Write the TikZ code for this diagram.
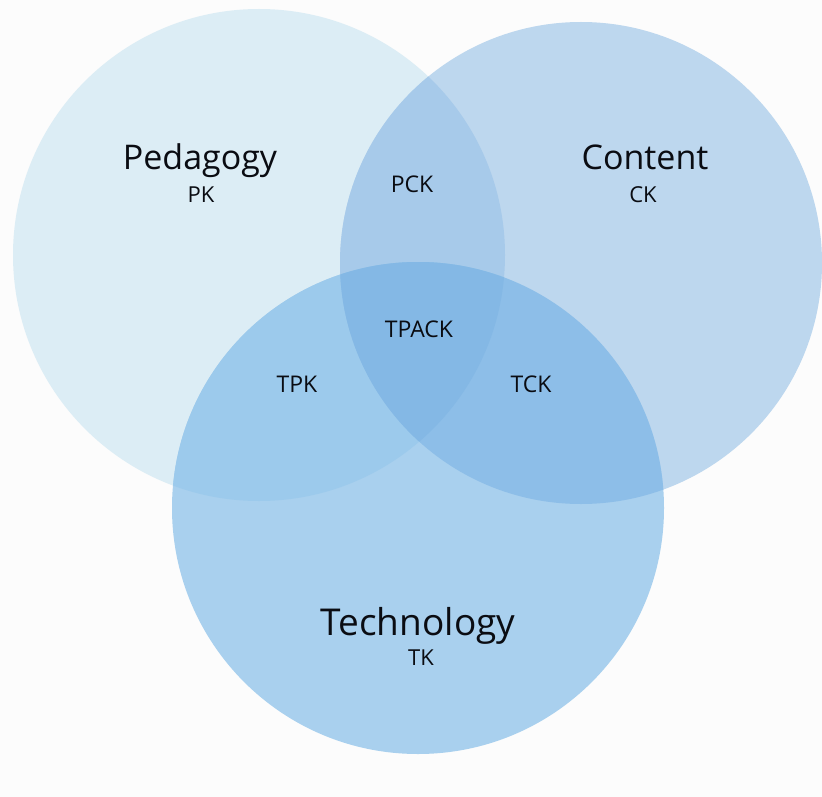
\documentclass[tikz,border=0pt]{standalone}
\usepackage{fontspec}
\setmainfont{Open Sans}
\usepackage{tikz}
\definecolor{ColBack}{RGB}{252,252,252}
\definecolor{ColPed}{RGB}{220,237,245}
\definecolor{ColCon}{RGB}{189,215,238}
\definecolor{ColTec}{RGB}{169,208,238}
\definecolor{ColPC}{RGB}{167,202,234}
\definecolor{ColPT}{RGB}{156,202,236}
\definecolor{ColCT}{RGB}{141,190,232}
\definecolor{ColAll}{RGB}{132,184,229}
\definecolor{ColText}{RGB}{10,12,18}
\tikzstyle{LabelBig}=[text=ColText,inner sep=0pt,anchor=base,
font=\fontsize{34}{38}\selectfont]
\tikzstyle{LabelTech}=[LabelBig,font=\fontsize{37}{42}\selectfont]
\tikzstyle{LabelMid}=[text=ColText,inner sep=0pt,anchor=base,
font=\fontsize{23}{27}\selectfont]
\tikzstyle{LabelSmall}=[text=ColText,inner sep=0pt,anchor=base,
font=\fontsize{22}{26}\selectfont]

\begin{document}
\begin{tikzpicture}[x=1pt,y=-1pt]
        \fill[ColBack](0,0)rectangle(822,797);
        \useasboundingbox(0,0)rectangle(822,797);
        \coordinate(ped)at(259,255);
        \coordinate(con)at(581,263);
        \coordinate(tec)at(418,508);
        % the three circles
        \fill[ColPed](ped)circle[radius=246pt];
        \fill[ColCon](con)circle[radius=241pt];
        \fill[ColTec](tec)circle[radius=246pt];
        % overlaps
        \begin{scope}
            \clip(ped)circle[radius=246pt];
            \fill[ColPC](con)circle[radius=241pt];
            \fill[ColPT](tec)circle[radius=246pt];
        \end{scope}
        \begin{scope}
            \clip(con)circle[radius=241pt];
            \fill[ColCT](tec)circle[radius=246pt];
        \end{scope}
        \begin{scope}
            \clip(ped)circle[radius=246pt];
            \clip(con)circle[radius=241pt];
            \fill[ColAll](tec)circle[radius=246pt];
        \end{scope}
        % labels
        \node[LabelBig](pedname)at(200,169){Pedagogy};
        \node[LabelSmall](pk)at(201,202){PK};
        \node[LabelBig](conname)at(645,169){Content};
        \node[LabelSmall](ck)at(643,202){CK};
        \node[LabelTech](tecname)at(418,635){Technology};
        \node[LabelSmall](tk)at(421,665){TK};
        \node[LabelMid](pck)at(412,192){PCK};
        \node[LabelMid](tpack)at(419,337){TPACK};
        \node[LabelMid](tpk)at(297,392){TPK};
        \node[LabelMid](tck)at(531,392){TCK};
    \end{tikzpicture}
\end{document}
